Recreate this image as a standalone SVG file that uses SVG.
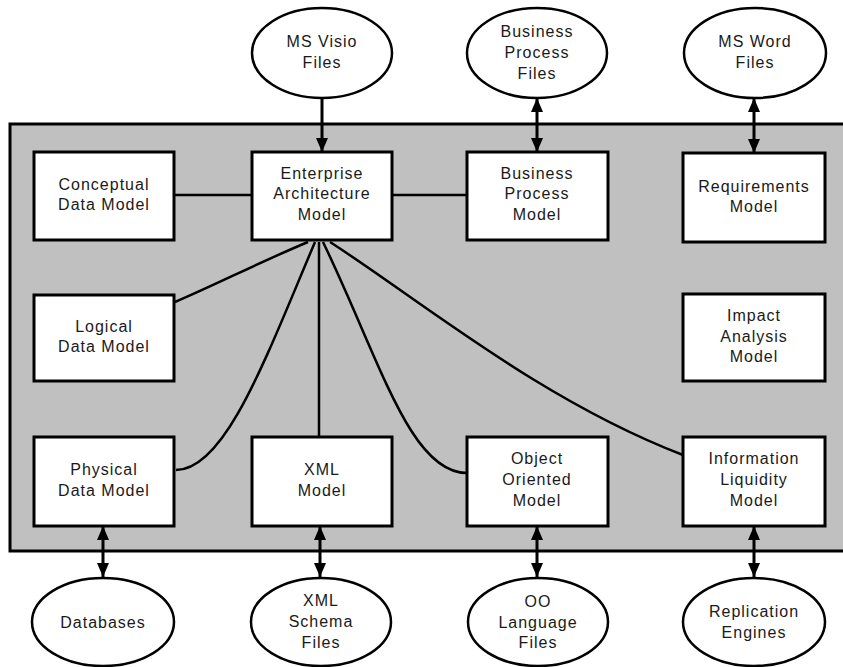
<svg xmlns="http://www.w3.org/2000/svg" width="843" height="667" viewBox="0 0 843 667">
<style>
.box{fill:#fff;stroke:#000;stroke-width:3}
.ell{fill:#fff;stroke:#000;stroke-width:2.5}
.t{font-family:"Liberation Sans",Arial,sans-serif;font-size:16px;fill:#1a1a1a;text-anchor:middle;letter-spacing:1px}
.c{fill:none;stroke:#000;stroke-width:2.5}
.a{fill:none;stroke:#000;stroke-width:3}
</style>
<defs>
<marker id="ah" viewBox="0 0 14 12" refX="14" refY="6" markerWidth="14" markerHeight="12" markerUnits="userSpaceOnUse" orient="auto-start-reverse">
<path d="M0,0 L14,6 L0,12 Z" fill="#000"/>
</marker>
</defs>
<rect id="panel" x="10" y="124" width="845" height="427" fill="#c0c0c0" stroke="#000" stroke-width="3"/>
<g id="connectors">
<line class="c" x1="174" y1="195" x2="252" y2="195"/>
<line class="c" x1="392" y1="195" x2="467" y2="195"/>
<path class="c" d="M308,242 C260,262 215,285 175,302"/>
<path class="c" d="M315,242 C265,360 225,470 176,470"/>
<line class="c" x1="319" y1="242" x2="319" y2="437"/>
<path class="c" d="M323,242 C380,360 410,473 467,473"/>
<path class="c" d="M330,242 C420,300 540,400 683,455"/>
<line class="a" x1="322" y1="98" x2="322" y2="152" marker-end="url(#ah)"/>
<line class="a" x1="537" y1="98" x2="537" y2="152" marker-start="url(#ah)" marker-end="url(#ah)"/>
<line class="a" x1="754" y1="98" x2="754" y2="153" marker-start="url(#ah)" marker-end="url(#ah)"/>
<line class="a" x1="103" y1="526" x2="103" y2="577" marker-start="url(#ah)" marker-end="url(#ah)"/>
<line class="a" x1="320" y1="526" x2="320" y2="577" marker-start="url(#ah)" marker-end="url(#ah)"/>
<line class="a" x1="537" y1="526" x2="537" y2="577" marker-start="url(#ah)" marker-end="url(#ah)"/>
<line class="a" x1="754" y1="526" x2="754" y2="577" marker-start="url(#ah)" marker-end="url(#ah)"/>
</g>
<g id="ms-visio"><ellipse class="ell" cx="322" cy="53" rx="70" ry="45"/><text class="t" x="322" y="47">MS Visio</text><text class="t" x="322" y="68">Files</text></g>
<g id="bp-files"><ellipse class="ell" cx="537" cy="53" rx="70" ry="45"/><text class="t" x="537" y="37">Business</text><text class="t" x="537" y="58">Process</text><text class="t" x="537" y="79">Files</text></g>
<g id="ms-word"><ellipse class="ell" cx="755" cy="53" rx="71" ry="45"/><text class="t" x="755" y="47">MS Word</text><text class="t" x="755" y="68">Files</text></g>
<g id="conceptual"><rect class="box" x="34" y="152" width="140" height="88"/><text class="t" x="104" y="190">Conceptual</text><text class="t" x="104" y="210">Data Model</text></g>
<g id="enterprise"><rect class="box" x="252" y="152" width="140" height="88"/><text class="t" x="322" y="179">Enterprise</text><text class="t" x="322" y="199">Architecture</text><text class="t" x="322" y="220">Model</text></g>
<g id="business"><rect class="box" x="467" y="152" width="141" height="88"/><text class="t" x="537" y="179">Business</text><text class="t" x="537" y="199">Process</text><text class="t" x="537" y="220">Model</text></g>
<g id="requirements"><rect class="box" x="683" y="153" width="142" height="89"/><text class="t" x="754" y="192">Requirements</text><text class="t" x="754" y="212">Model</text></g>
<g id="logical"><rect class="box" x="34" y="295" width="140" height="86"/><text class="t" x="104" y="332">Logical</text><text class="t" x="104" y="352">Data Model</text></g>
<g id="impact"><rect class="box" x="683" y="294" width="142" height="87"/><text class="t" x="754" y="321">Impact</text><text class="t" x="754" y="342">Analysis</text><text class="t" x="754" y="362">Model</text></g>
<g id="physical"><rect class="box" x="34" y="437" width="140" height="89"/><text class="t" x="104" y="475">Physical</text><text class="t" x="104" y="496">Data Model</text></g>
<g id="xml-model"><rect class="box" x="252" y="437" width="140" height="89"/><text class="t" x="322" y="475">XML</text><text class="t" x="322" y="496">Model</text></g>
<g id="oo-model"><rect class="box" x="467" y="437" width="141" height="89"/><text class="t" x="537" y="464">Object</text><text class="t" x="537" y="485">Oriented</text><text class="t" x="537" y="506">Model</text></g>
<g id="info"><rect class="box" x="683" y="437" width="142" height="89"/><text class="t" x="754" y="464">Information</text><text class="t" x="754" y="485">Liquidity</text><text class="t" x="754" y="506">Model</text></g>
<g id="databases"><ellipse class="ell" cx="103" cy="622" rx="71" ry="44"/><text class="t" x="103" y="628">Databases</text></g>
<g id="xml-schema"><ellipse class="ell" cx="321" cy="622" rx="70" ry="44"/><text class="t" x="321" y="606">XML</text><text class="t" x="321" y="627">Schema</text><text class="t" x="321" y="648">Files</text></g>
<g id="oo-files"><ellipse class="ell" cx="538" cy="622" rx="70" ry="44"/><text class="t" x="538" y="607">OO</text><text class="t" x="538" y="628">Language</text><text class="t" x="538" y="648">Files</text></g>
<g id="replication"><ellipse class="ell" cx="754" cy="622" rx="71" ry="44"/><text class="t" x="754" y="617">Replication</text><text class="t" x="754" y="638">Engines</text></g>
</svg>
